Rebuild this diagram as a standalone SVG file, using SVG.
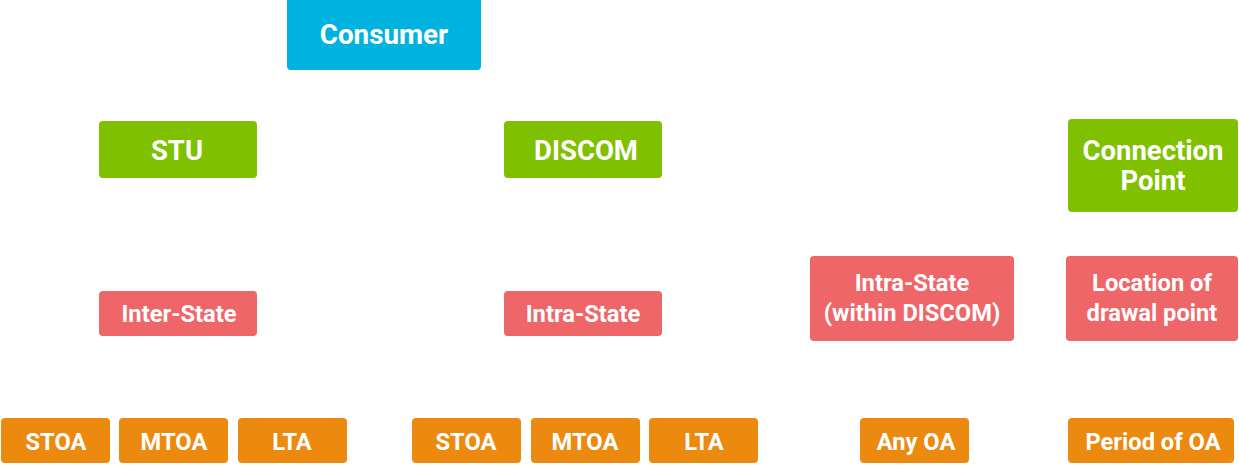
<svg xmlns="http://www.w3.org/2000/svg" width="1239" height="465" viewBox="0 0 1239 465">
<style>
rect{rx:4px;ry:4px}
.b{fill:#00B2E0}.g{fill:#7FC100}.r{fill:#EF6669}.o{fill:#EC8A0F}
text{font-family:Roboto,"Liberation Sans",sans-serif;font-weight:700;fill:#fff;text-anchor:middle}
.t1{font-size:27.8px}.t2{font-size:27.5px}.t3{font-size:23.7px}.t4{font-size:23.7px}
</style>
<rect x="0" y="0" width="1239" height="465" fill="#fff" rx="0" ry="0" style="rx:0;ry:0"/>
<g id="connectors"></g>
<g id="consumer"><rect class="b" x="287" y="-4" width="194" height="74"/><text class="t1" x="384" y="44">Consumer</text></g>
<g id="stu"><rect class="g" x="99" y="121" width="158" height="57"/><text class="t2" x="177" y="160">STU</text></g>
<g id="discom"><rect class="g" x="504" y="121" width="158" height="57"/><text class="t2" x="586" y="160">DISCOM</text></g>
<g id="connection-point"><rect class="g" x="1068" y="119" width="170" height="93"/><text class="t2" x="1153" y="160">Connection</text><text class="t2" x="1153" y="190">Point</text></g>
<g id="inter-state"><rect class="r" x="99" y="291" width="158" height="45"/><text class="t3" x="179" y="322">Inter-State</text></g>
<g id="intra-state"><rect class="r" x="504" y="291" width="158" height="45"/><text class="t3" x="583" y="322">Intra-State</text></g>
<g id="intra-state-discom"><rect class="r" x="810" y="256" width="204" height="85"/><text class="t3" x="912" y="291">Intra-State</text><text class="t3" x="912" y="321">(within DISCOM)</text></g>
<g id="location"><rect class="r" x="1066" y="256" width="172" height="85"/><text class="t3" x="1152" y="291">Location of</text><text class="t3" x="1152" y="321">drawal point</text></g>
<g id="stoa1"><rect class="o" x="1" y="418" width="109" height="45"/><text class="t4" x="56" y="450">STOA</text></g>
<g id="mtoa1"><rect class="o" x="119" y="418" width="109" height="45"/><text class="t4" x="174" y="450">MTOA</text></g>
<g id="lta1"><rect class="o" x="238" y="418" width="109" height="45"/><text class="t4" x="292" y="450">LTA</text></g>
<g id="stoa2"><rect class="o" x="412" y="418" width="109" height="45"/><text class="t4" x="466" y="450">STOA</text></g>
<g id="mtoa2"><rect class="o" x="531" y="418" width="109" height="45"/><text class="t4" x="585" y="450">MTOA</text></g>
<g id="lta2"><rect class="o" x="649" y="418" width="109" height="45"/><text class="t4" x="704" y="450">LTA</text></g>
<g id="anyoa"><rect class="o" x="860" y="418" width="109" height="45"/><text class="t4" x="916" y="450">Any OA</text></g>
<g id="period"><rect class="o" x="1068" y="418" width="166" height="45"/><text class="t4" x="1153" y="450">Period of OA</text></g>
</svg>
